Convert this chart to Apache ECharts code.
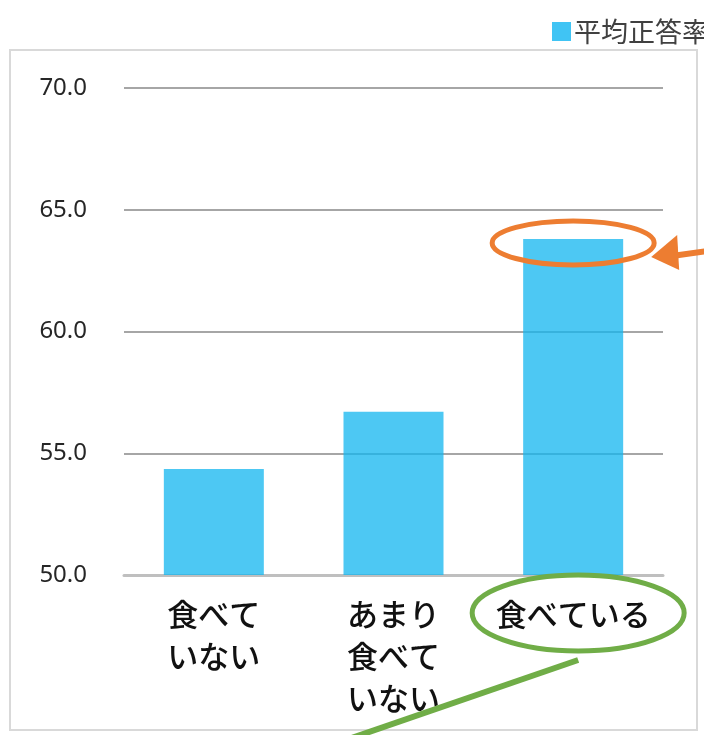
<!DOCTYPE html>
<html><head><meta charset="utf-8">
<script src="https://cdn.jsdelivr.net/npm/echarts@6/dist/echarts.min.js"></script>
<style>html,body{margin:0;padding:0;background:#fff}#c{width:704px;height:735px}</style>
</head><body><div id="c"></div>
<script>
const categories = ['食べて\nいない', 'あまり\n食べて\nいない', '食べている'];
const values = [54.35, 56.7, 63.8];
const seriesName = '平均正答率';
const yMin = 50, yMax = 70, yStep = 5;

const chart = echarts.init(document.getElementById('c'));
chart.setOption({
  animation: false,
  backgroundColor: '#fff',
  legend: {
    data: [seriesName], left: 547, top: 13, icon: 'rect', itemWidth: 19, itemHeight: 19, itemGap: 4,
    textStyle: { fontSize: 27, color: '#404040', fontFamily: 'Noto Sans CJK JP', padding: [0, 0, 0, -2] },
    itemStyle: { color: '#00B0F0' }
  },
  grid: { left: 124, right: 41, top: 88, bottom: 160 },
  xAxis: {
    type: 'category', data: categories,
    axisLine: { show: true, lineStyle: { color: '#BFBFBF', width: 3 } },
    axisTick: { show: false },
    axisLabel: { fontSize: 31, fontWeight: 500, color: '#111', lineHeight: 42, margin: 18, fontFamily: 'Noto Sans CJK JP', interval: 0 }
  },
  yAxis: {
    type: 'value', min: yMin, max: yMax, interval: yStep,
    axisLine: { show: false }, axisTick: { show: false },
    axisLabel: { formatter: v => v.toFixed(1), fontSize: 24, color: '#262626', margin: 37, fontFamily: 'Noto Sans' },
    splitLine: { lineStyle: { color: '#A6A6A6', width: 2 } }
  },
  series: [{
    name: seriesName, type: 'bar', data: values, barWidth: 100,
    itemStyle: { color: 'rgb(18,182,239)', opacity: 0.75 }
  }]
});

// annotations anchored to the chart's own scales
const top3 = chart.convertToPixel({ gridIndex: 0 }, [2, values[2]]);
const base3 = chart.convertToPixel({ gridIndex: 0 }, [2, yMin]);
const oc = [top3[0], top3[1] + 4];
const gc = [base3[0] + 5, base3[1] + 38];
chart.setOption({
  graphic: [
    { type: 'rect', shape: { x: 10, y: 50, width: 687, height: 680 }, style: { fill: 'none', stroke: '#D9D9D9', lineWidth: 2 }, z: 0 },
    { type: 'ellipse', shape: { cx: oc[0], cy: oc[1], rx: 81, ry: 22 }, style: { fill: 'none', stroke: '#ED7D31', lineWidth: 5 }, z: 100 },
    { type: 'line', shape: { x1: 708, y1: 251, x2: 672, y2: 256 }, style: { stroke: '#ED7D31', lineWidth: 6 }, z: 100 },
    { type: 'polygon', shape: { points: [[oc[0] + 78, oc[1] + 14], [oc[0] + 104, oc[1] - 8], [oc[0] + 106, oc[1] + 27]] }, style: { fill: '#ED7D31' }, z: 100 },
    { type: 'ellipse', shape: { cx: gc[0], cy: gc[1], rx: 106, ry: 38 }, style: { fill: 'none', stroke: '#70AD47', lineWidth: 5 }, z: 100 },
    { type: 'line', shape: { x1: gc[0], y1: gc[1] + 47, x2: 340, y2: 742 }, style: { stroke: '#70AD47', lineWidth: 6 }, z: 100 }
  ]
});
</script></body></html>
